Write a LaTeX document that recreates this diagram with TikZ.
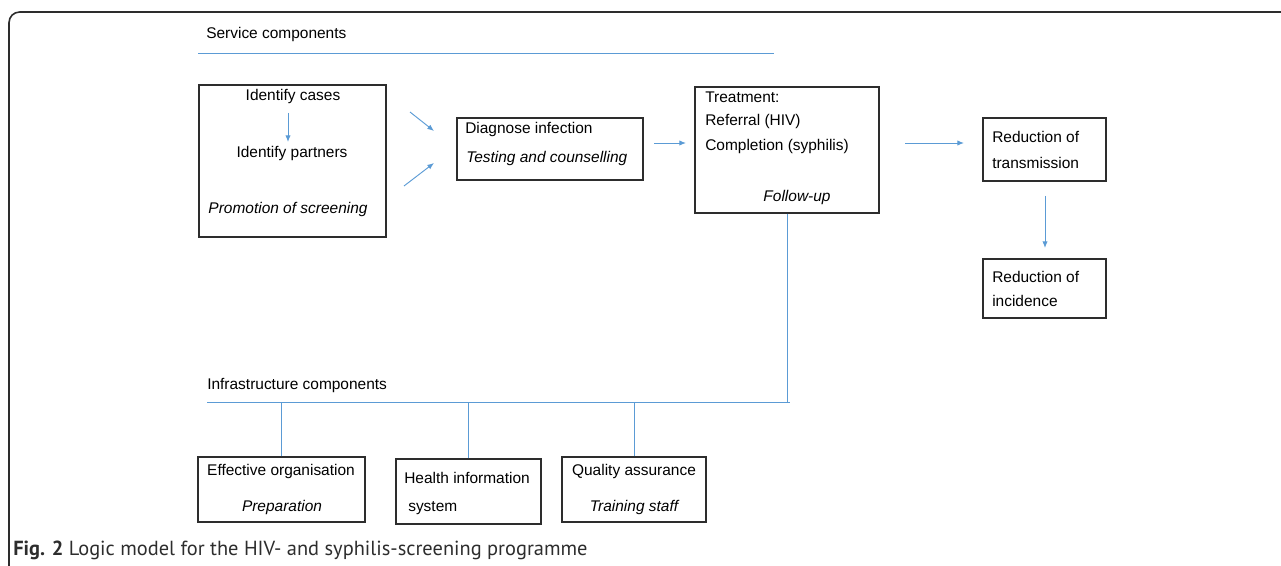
\documentclass[tikz,border=0pt]{standalone}
\usepackage{fontspec}
\setmainfont{Liberation Sans}
\newfontfamily\capfont{PT Sans}
\usetikzlibrary{arrows.meta}

\definecolor{lineblue}{RGB}{91,155,213}
\definecolor{framegray}{RGB}{45,45,45}
\newcommand{\pxu}{0.75pt}

\tikzset{
  box/.style={draw=framegray, line width=0.9pt, inner sep=0pt},
  txt/.style={inner sep=0pt, font=\fontsize{11.6}{14}\selectfont},
  link/.style={draw=lineblue, line width=0.7pt},
  arr/.style={link, -{Latex[length=5pt,width=4pt]}}
}

\begin{document}
\begin{tikzpicture}[x=0.75pt, y=-0.75pt]
	\useasboundingbox (0,0) rectangle (1281,566);
	% outer frame
	\draw[framegray, line width=1.2pt, rounded corners=8pt] (9,570) -- (9,12) -- (1285,12);

	% service components
	\node[txt, anchor=west] (svc) at (206,35) {Service components};
	\draw[link] (198,53) -- (774,53);

	\node[box, minimum width=187*\pxu, minimum height=152*\pxu] (box1) at (292.5,161) {};
	\node[txt] (cases) at (293,97) {Identify cases};
	\node[txt] (partners) at (292,154) {Identify partners};
	\node[txt] (promo) at (288,210) {\itshape Promotion of screening};
	\coordinate (c1) at (288,113);
	\coordinate (c2) at (288,142);
	\draw[arr] (c1) -- (c2);

	\coordinate (d1s) at (410,112);
	\coordinate (d1e) at (434,131);
	\coordinate (d2s) at (404,186);
	\coordinate (d2e) at (434,163);
	\draw[arr] (d1s) -- (d1e);
	\draw[arr] (d2s) -- (d2e);

	\node[box, minimum width=186*\pxu, minimum height=62*\pxu] (box2) at (550,149) {};
	\node[txt, anchor=west] (diag) at (465,130) {Diagnose infection};
	\node[txt, anchor=west] (test) at (466,159) {\itshape Testing and counselling};

	\coordinate (t1s) at (654,143);
	\coordinate (t1e) at (686,143);
	\draw[arr] (t1s) -- (t1e);

	\node[box, minimum width=184*\pxu, minimum height=126*\pxu] (box3) at (787,150) {};
	\node[txt, anchor=west] (treat) at (705,97) {Treatment:};
	\node[txt, anchor=west] (refer) at (705,122) {Referral (HIV)};
	\node[txt, anchor=west] (compl) at (705,147) {Completion (syphilis)};
	\node[txt] (follow) at (797,198) {\itshape Follow-up};

	\coordinate (r1s) at (905,143);
	\coordinate (r1e) at (964,143);
	\draw[arr] (r1s) -- (r1e);

	\node[box, minimum width=123*\pxu, minimum height=63*\pxu] (box4) at (1044.5,149.5) {};
	\node[txt, anchor=west] (trans1) at (992,137) {Reduction of};
	\node[txt, anchor=west] (trans2) at (992,163) {transmission};

	\coordinate (r2s) at (1045,196);
	\coordinate (r2e) at (1045,248);
	\draw[arr] (r2s) -- (r2e);

	\node[box, minimum width=123*\pxu, minimum height=59*\pxu] (box5) at (1044.5,288.5) {};
	\node[txt, anchor=west] (inc1) at (992,277) {Reduction of};
	\node[txt, anchor=west] (inc2) at (992,301) {incidence};

	% infrastructure components
	\node[txt, anchor=west] (infra) at (207,386) {Infrastructure components};
	\coordinate (il) at (207,402);
	\coordinate (ir) at (790,402);
	\draw[link] (il) -- (ir);
	\draw[link] (box3.south) -- (box3.south |- ir);

	\node[box, minimum width=167*\pxu, minimum height=65*\pxu] (box6) at (281.5,489.5) {};
	\node[txt] (org) at (281,472) {Effective organisation};
	\node[txt] (prep) at (282,508) {\itshape Preparation};

	\node[box, minimum width=145*\pxu, minimum height=65*\pxu] (box7) at (468.5,491.5) {};
	\node[txt, anchor=west] (his1) at (404,478) {Health information};
	\node[txt, anchor=west] (his2) at (408,508) {system};

	\node[box, minimum width=144*\pxu, minimum height=65*\pxu] (box8) at (634,489.5) {};
	\node[txt] (qa) at (634,472) {Quality assurance};
	\node[txt] (staff) at (634,508) {\itshape Training staff};

	\foreach \b in {box6,box7,box8}
		\draw[link] (\b.north) -- (\b.north |- il);

	% caption
	\node[inner sep=0pt, anchor=base west, font=\capfont\fontsize{15.3}{18}\selectfont, text=framegray] (cap) at (13,555)
		{\textbf{Fig. 2} Logic model for the HIV- and syphilis-screening programme};
\end{tikzpicture}
\end{document}
